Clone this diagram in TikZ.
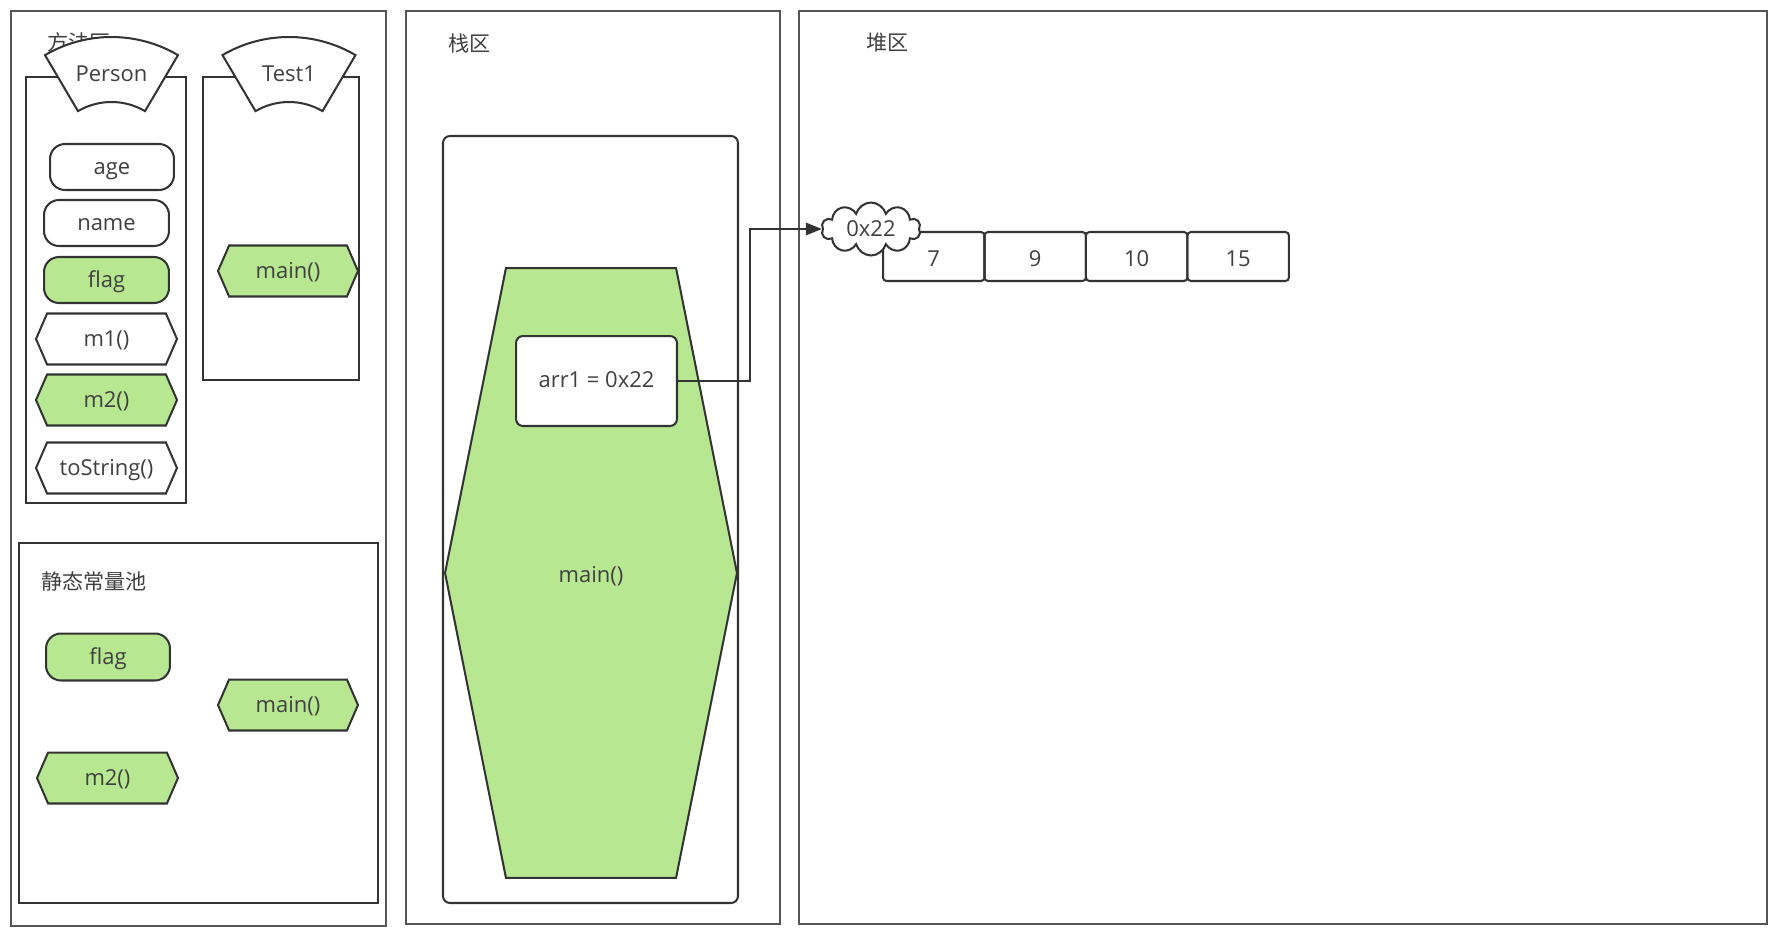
\documentclass[tikz,border=0pt]{standalone}
\usepackage{fontspec}
\setmainfont{Open Sans}
\newfontfamily\cjk{Noto Sans CJK SC}
\usepackage{tikz}
\usetikzlibrary{positioning, shapes, shapes.symbols, arrows.meta}
\definecolor{jvgreen}{RGB}{183,232,145}
\definecolor{jvline}{RGB}{51,51,51}
\definecolor{jvframe}{RGB}{85,85,85}
\definecolor{jvtext}{RGB}{64,64,64}
\newcommand{\lbl}{\fontsize{12.5}{15}\selectfont}
\tikzset{
  area/.style={draw=jvframe, line width=1.5pt},
  classbox/.style={draw=jvline, line width=1.15pt},
  header/.style={draw=jvline, line width=1.15pt, fill=white},
  mid/.style={text height=10.8pt, text depth=2.4pt},
  field/.style={
    draw=jvline, line width=1.15pt, fill=white, rounded corners=0.3cm,
    minimum width=2.48cm, minimum height=0.92cm, inner sep=0pt,
    font=\lbl, text=jvtext, mid
  },
  method/.style={
    signal, signal to=west and east, signal pointer angle=133,
    draw=jvline, line width=1.15pt, fill=white,
    minimum width=2.82cm, minimum height=1.02cm, inner sep=0pt,
    font=\lbl, text=jvtext, mid
  },
  live/.style={fill=jvgreen},
  title/.style={font=\cjk\fontsize{12}{14}\selectfont, text=jvtext, anchor=west, inner sep=0pt},
  cell/.style={
    draw=jvline, line width=1.15pt, rounded corners=2pt, outer sep=0pt,
    minimum width=2.03cm, minimum height=0.98cm, inner sep=0pt,
    font=\lbl, text=jvtext, text height=11.5pt, text depth=0pt
  },
  addr/.style={
    cloud, cloud puffs=10, cloud ignores aspect, draw=jvline, line width=1.15pt,
    fill=white, minimum width=1.98cm, minimum height=1.06cm, inner sep=0pt,
    font=\lbl, text=jvtext
  },
  ref/.style={-{Triangle[length=9pt,width=7pt]}, draw=jvline, line width=1.15pt}
}
% class header: name, centre x, text
\newcommand{\classhead}[3]{%
  \draw[header] (#2,168) ++(239.5:131) arc[start angle=239.5, end angle=300.5, radius=131]
    -- ++(300.5:-65) arc[start angle=300.5, end angle=239.5, radius=66] -- cycle;
  \node[font=\lbl, text=jvtext] (#1) at (#2,74) {#3};%
}

\begin{document}
\begin{tikzpicture}[x=0.02cm, y=-0.02cm, node distance=0pt]
\fill[white] (0,0) rectangle (1785,936);
\useasboundingbox (0,0) rectangle (1785,936);

%% three memory areas
\draw[area] (11,11) rectangle (386,926);
\draw[area] (406,11) rectangle (780,924);
\draw[area] (799,11) rectangle (1767,924);
\node[title] (methodlbl) at (47,42) {方法区};
\node[title] (stacklbl) at (448,43) {栈区};
\node[title] (heaplbl) at (866,43) {堆区};

%% method area: class Person
\draw[classbox] (26,77) rectangle (186,503);
\classhead{person}{111.5}{Person}
\node[field] (age) at (112,167) {age};
\node[field, minimum width=2.5cm] (name) at (106.5,223) {name};
\node[field, live, minimum width=2.5cm] (flag) at (106.5,280) {flag};
\node[method] (m1) at (106.5,339) {m1()};
\node[method, live] (m2) at (106.5,400) {m2()};
\node[method] (tostr) at (106.5,468) {toString()};

%% method area: class Test1
\draw[classbox] (203,77) rectangle (359,380);
\classhead{test}{289}{Test1}
\node[method, live, minimum width=2.8cm] (tmain) at (288,271) {main()};

%% static constant pool
\draw[classbox] (19,543) rectangle (378,903);
\node[title] (poollbl) at (41,581) {静态常量池};
\node[field, live, minimum width=2.48cm, minimum height=0.94cm] (sflag) at (108,657) {flag};
\node[method, live, minimum width=2.8cm] (smain) at (288,705) {main()};
\node[method, live] (sm2) at (107.5,778) {m2()};

%% stack: frame of main()
\draw[classbox, rounded corners=4pt] (443,136) rectangle (738,903);
\node[signal, signal to=west and east, signal pointer angle=157.4, draw=jvline,
  line width=1.15pt, fill=jvgreen, minimum width=5.84cm, minimum height=12.2cm,
  inner sep=0pt, font=\lbl, text=jvtext, text height=12.8pt, text depth=2.4pt]
  (frame) at (591,573) {main()};
\node[draw=jvline, line width=1.15pt, fill=white, rounded corners=4pt,
  minimum width=3.22cm, minimum height=1.8cm, inner sep=0pt, font=\lbl,
  text=jvtext, text height=10.2pt, text depth=2.4pt] (arr) at (596.5,381) {arr1 = 0x22};

%% heap: the array
\node[cell] (c1) at (933.75,256.5) {7};
\node[cell, right=of c1] (c2) {9};
\node[cell, right=of c2] (c3) {10};
\node[cell, right=of c3] (c4) {15};
\node[addr] (addr) at (871,229) {0x22};

%% reference
\draw[ref] (arr.east) -- ++(72,0) |- (addr.west);

\end{tikzpicture}
\end{document}
